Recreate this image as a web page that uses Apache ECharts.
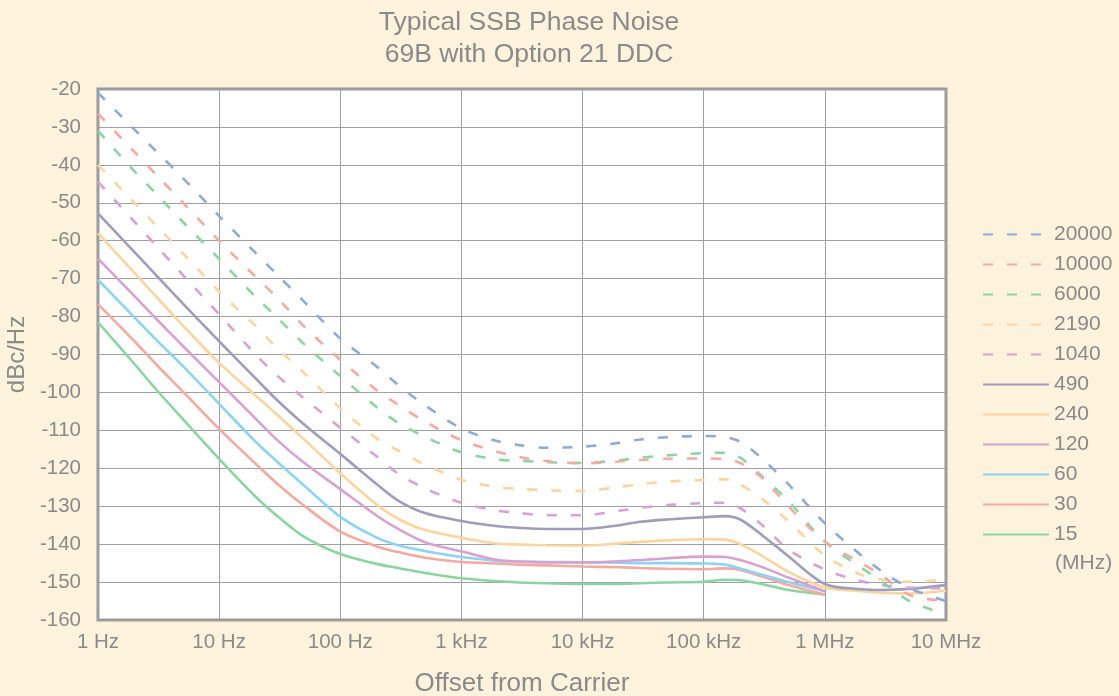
<!DOCTYPE html>
<html>
<head>
<meta charset="utf-8">
<script src="https://cdn.jsdelivr.net/npm/echarts@6/dist/echarts.min.js"></script>
<style>
html,body{margin:0;padding:0;background:#fdf2dc;}
#chart{width:1119px;height:696px;}
</style>
</head>
<body>
<div id="chart"></div>
<script>
// Offset frequencies (Hz) shared by all curves
const freqs = [1, 2, 3, 5, 10, 20, 30, 50, 100, 200, 300, 500, 1e3, 2e3, 3e3, 5e3,
  1e4, 2e4, 3e4, 5e4, 1e5, 1.5e5, 2e5, 3e5, 5e5, 1e6, 2e6, 3e6, 5e6, 1e7];

// SSB phase noise (dBc/Hz) per carrier frequency (MHz)
const pn20000 = [-21, -30.7, -36.3, -43.4, -53.5, -63.2, -68.9, -76, -85.8, -93.2, -98, -103.4, -109.5, -112.9, -113.9, -114.6,
  -114.3, -113.3, -112.4, -111.8, -111.5, -111.8, -113, -117.3, -124.2, -134.5, -143, -147.3, -151.6, -155];
const pn10000 = [-26.5, -36.6, -42.5, -49.9, -60, -69.5, -75, -82.5, -91.4, -99.4, -103.2, -107.7, -112.6, -115.7, -117, -118.1,
  -118.7, -118.2, -117.8, -117.5, -117.4, -117.6, -118.6, -122.4, -130, -139.3, -145, -148.4, -153.4, -155];
const pn6000 = [-31, -41.7, -47.5, -55, -64.8, -74.8, -80.2, -87.2, -95.7, -103.9, -108, -111.7, -115.8, -117.7, -118, -118.4,
  -118.6, -117.9, -117.2, -116.6, -116, -115.9, -117.2, -122, -128.6, -139.4, -146.2, -150, -155, -158.5];
const pn2190 = [-40, -50, -55.9, -63.3, -73.4, -82.5, -88.3, -94.8, -104.2, -112.1, -115.3, -119, -123, -125, -125.4, -125.8,
  -126, -124.9, -124.2, -123.5, -123.1, -122.9, -124.3, -128, -133.9, -143, -148.1, -149.3, -149.9, -149.4];
const pn1040 = [-44.5, -55, -61.2, -69, -79.4, -90, -95.5, -101.5, -109.3, -116.9, -121.4, -125.3, -129.1, -131.2, -131.8, -132.4,
  -132.4, -131.2, -130.4, -129.7, -129.2, -129.1, -130.5, -134.8, -141.4, -146.7, -149.8, -150.8, -151.5, -151.6];
const pn490 = [-52.8, -63, -69, -76.5, -86.5, -96.3, -102, -108.4, -116.2, -124.2, -128.5, -131.8, -133.9, -135.3, -135.7, -136,
  -136, -135, -134.1, -133.5, -132.9, -132.6, -133.5, -137.5, -143.2, -150.5, -151.9, -152.1, -151.8, -150.8];
const pn240 = [-58, -68.5, -74.6, -82.3, -92.2, -100.8, -105.8, -112.3, -121.3, -129.6, -133.3, -136.3, -138.3, -139.9, -140.1, -140.3,
  -140.4, -139.8, -139.4, -139, -138.7, -138.8, -140, -143, -147.3, -151.4, -152.4, -152.8, -153, -152.3];
const pn120 = [-64.7, -74.6, -80.5, -87.7, -97.3, -106.9, -112.5, -118.5, -125.5, -132.5, -136, -139.5, -141.9, -144.2, -144.6, -144.8,
  -144.8, -144.5, -144.2, -143.7, -143.3, -143.4, -144.2, -146, -148.8, -152.4, null, null, null, null];
const pn60 = [-70.3, -80.2, -86, -93, -103, -113, -118.2, -124.5, -132.8, -138.3, -140.3, -141.8, -143.4, -144.4, -144.6, -144.7,
  -144.8, -144.9, -145, -145, -145.1, -145.4, -146.4, -148, -150, -152.4, null, null, null, null];
const pn30 = [-76.7, -86.5, -92.5, -99.7, -109.6, -118.8, -124, -129.8, -136.7, -140.6, -142.1, -143.6, -144.7, -145.1, -145.4, -145.6,
  -145.9, -146.1, -146.3, -146.5, -146.6, -146.4, -146.8, -148.5, -150.8, -153.3, null, null, null, null];
const pn15 = [-81.5, -92.5, -99.1, -107, -117.5, -127.5, -132.5, -138, -142.6, -145.2, -146.3, -147.6, -149, -149.8, -150.1, -150.3,
  -150.5, -150.5, -150.3, -150.1, -149.9, -149.4, -149.5, -150.5, -152.1, -153.3, null, null, null, null];

const seriesNames = ['20000', '10000', '6000', '2190', '1040', '490', '240', '120', '60', '30', '15'];
const seriesValues = [pn20000, pn10000, pn6000, pn2190, pn1040, pn490, pn240, pn120, pn60, pn30, pn15];
const seriesColors = ['#8eaad9', '#f4a9a1', '#8dd4a3', '#fbd49f', '#d7a2d0', '#9e9dba', '#fbd49f', '#d7a2d0', '#8dd3f4', '#f4a9a1', '#8dd4a3'];
const seriesDashed = [true, true, true, true, true, false, false, false, false, false, false];

const xTickLabels = ['1 Hz', '10 Hz', '100 Hz', '1 kHz', '10 kHz', '100 kHz', '1 MHz', '10 MHz'];

const textGray = '#8a8a8a';
const fontFam = 'Liberation Sans, Arial, sans-serif';

const chart = echarts.init(document.getElementById('chart'));

const series = seriesNames.map((name, i) => ({
  name: name,
  type: 'line',
  data: freqs.map((f, j) => [f, seriesValues[i][j]]),
  showSymbol: false,
  symbol: 'none',
  smooth: 0.3,
  connectNulls: false,
  lineStyle: {
    color: seriesColors[i],
    width: 2.6,
    type: seriesDashed[i] ? [10, 14] : 'solid'
  },
  itemStyle: { color: seriesColors[i] },
  z: 2 + (seriesNames.length - i)
}));

chart.setOption({
  backgroundColor: '#fdf2dc',
  animation: false,
  title: {
    text: 'Typical SSB Phase Noise\n69B with Option 21 DDC',
    left: 524,
    textAlign: 'center',
    top: 2,
    textStyle: {
      color: textGray,
      fontSize: 26.5,
      fontWeight: 'normal',
      lineHeight: 32,
      fontFamily: fontFam
    }
  },
  legend: {
    orient: 'vertical',
    left: 982,
    top: 224,
    padding: 0,
    itemWidth: 66,
    itemHeight: 18,
    itemGap: 9,
    data: seriesNames,
    itemStyle: { opacity: 0 },
    textStyle: {
      color: textGray,
      fontSize: 21,
      fontFamily: fontFam
    }
  },
  graphic: [{
    type: 'text',
    left: 1055,
    top: 553,
    style: {
      text: '(MHz)',
      fill: textGray,
      fontSize: 21,
      fontFamily: fontFam
    }
  }],
  grid: {
    left: 98,
    right: 173,
    top: 89,
    bottom: 76,
    outerBoundsMode: 'none',
    containLabel: false,
    show: true,
    backgroundColor: '#ffffff',
    borderColor: '#999999',
    borderWidth: 3
  },
  xAxis: {
    type: 'log',
    logBase: 10,
    min: 1,
    max: 1e7,
    splitNumber: 7,
    name: 'Offset from Carrier',
    nameLocation: 'middle',
    nameGap: 51,
    nameTextStyle: { color: textGray, fontSize: 26, fontFamily: fontFam },
    axisLine: { show: false },
    axisTick: { show: false },
    axisLabel: {
      color: textGray,
      fontSize: 20.5,
      margin: 12,
      fontFamily: fontFam,
      formatter: v => xTickLabels[Math.round(Math.log10(v))]
    },
    splitLine: { show: true, lineStyle: { color: '#a0a0a0', width: 1 } }
  },
  yAxis: {
    type: 'value',
    min: -160,
    max: -20,
    interval: 10,
    name: 'dBc/Hz',
    nameLocation: 'middle',
    nameGap: 64,
    nameTextStyle: { color: textGray, fontSize: 24, fontFamily: fontFam },
    axisLine: { show: false },
    axisTick: { show: false },
    axisLabel: {
      color: textGray,
      fontSize: 20.5,
      margin: 17,
      fontFamily: fontFam
    },
    splitLine: { show: true, lineStyle: { color: '#a0a0a0', width: 1 } }
  },
  series: series
});
</script>
</body>
</html>
